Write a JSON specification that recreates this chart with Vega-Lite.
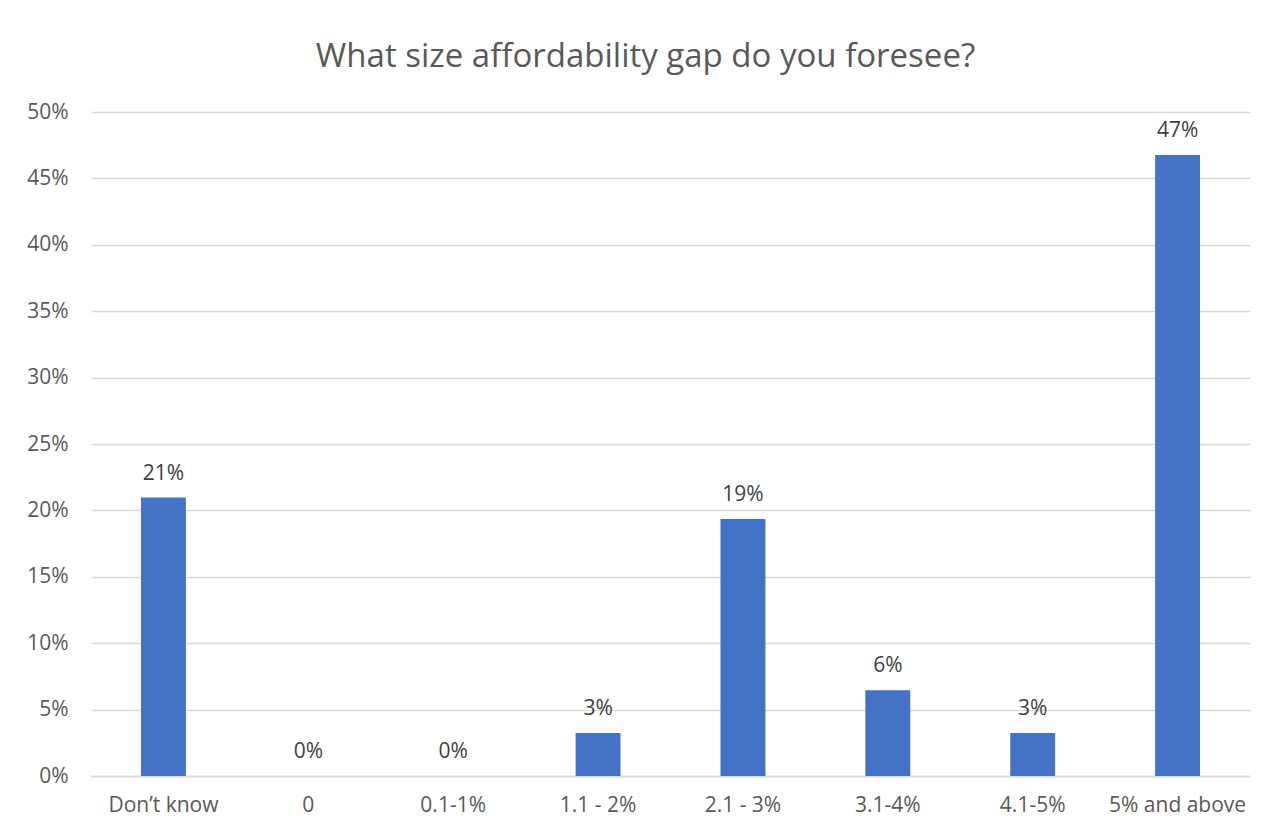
{
  "$schema": "https://vega.github.io/schema/vega-lite/v6.json",
  "autosize": {"type": "none"},
  "width": 1159,
  "height": 664,
  "padding": {"left": 91, "top": 112, "right": 18, "bottom": 52},
  "background": "white",
  "title": {
    "text": "What size affordability gap do you foresee?",
    "font": "Open Sans",
    "fontSize": 33,
    "fontWeight": "normal",
    "color": "#595959",
    "anchor": "middle",
    "dx": -25,
    "offset": 27
  },
  "data": {
    "values": [
      {"category": "Don’t know", "value": 0.2097},
      {"category": "0", "value": 0},
      {"category": "0.1-1%", "value": 0},
      {"category": "1.1 - 2%", "value": 0.0323},
      {"category": "2.1 - 3%", "value": 0.1935},
      {"category": "3.1-4%", "value": 0.0645},
      {"category": "4.1-5%", "value": 0.0323},
      {"category": "5% and above", "value": 0.4677}
    ]
  },
  "encoding": {
    "x": {
      "field": "category",
      "type": "nominal",
      "sort": null,
      "scale": {"paddingInner": 0.69, "paddingOuter": 0.345},
      "axis": {
        "title": null,
        "labelAngle": 0,
        "labelFont": "Open Sans",
        "labelFontSize": 21,
        "labelColor": "#595959",
        "labelPadding": 18,
        "ticks": false,
        "domainColor": "#D9D9D9",
        "domainWidth": 1.5,
        "grid": false
      }
    },
    "y": {
      "field": "value",
      "type": "quantitative",
      "scale": {"domain": [0, 0.5]},
      "axis": {
        "title": null,
        "values": [0, 0.05, 0.1, 0.15, 0.2, 0.25, 0.3, 0.35, 0.4, 0.45, 0.5],
        "format": ".0%",
        "labelFont": "Open Sans",
        "labelFontSize": 21,
        "labelColor": "#595959",
        "labelPadding": 23,
        "ticks": false,
        "domain": false,
        "grid": true,
        "gridColor": "#D9D9D9",
        "gridWidth": 1.5
      }
    }
  },
  "layer": [
    {"mark": {"type": "bar", "color": "#4472C4"}},
    {
      "mark": {
        "type": "text",
        "font": "Open Sans",
        "fontSize": 21,
        "color": "#404040",
        "baseline": "alphabetic",
        "dy": -18
      },
      "encoding": {
        "text": {"field": "value", "type": "quantitative", "format": ".0%"}
      }
    }
  ],
  "config": {"view": {"stroke": null}}
}
